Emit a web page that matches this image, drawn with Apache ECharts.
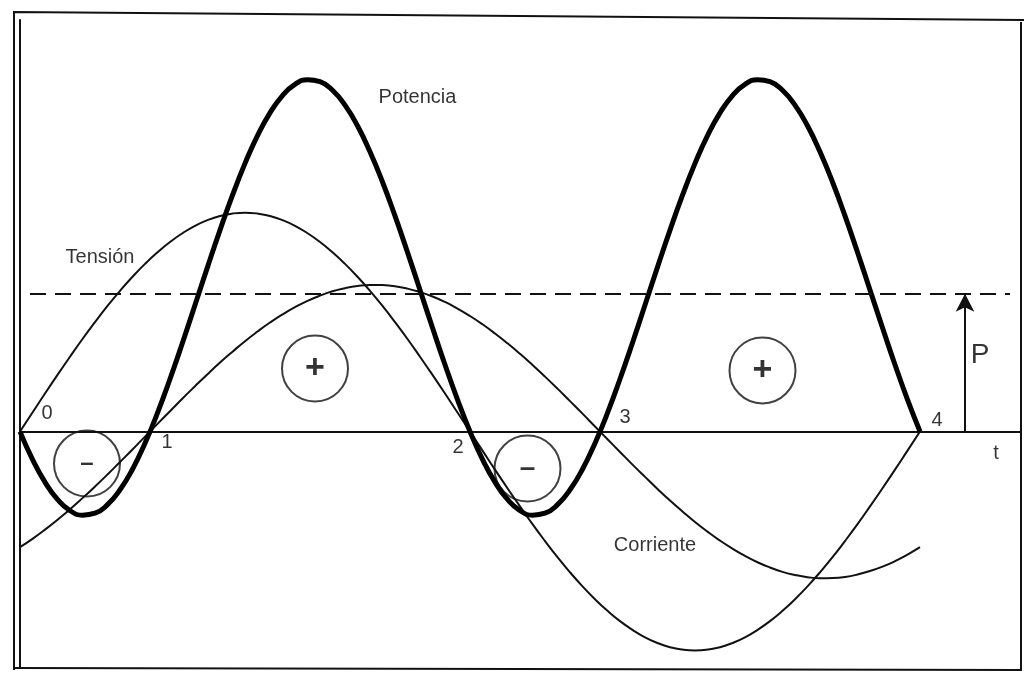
<!DOCTYPE html>
<html>
<head>
<meta charset="utf-8">
<title>Tensión, corriente y potencia</title>
<script src="https://cdn.jsdelivr.net/npm/echarts@6/dist/echarts.min.js"></script>
<style>
html,body{margin:0;padding:0;background:#fff;}
#chart{width:1025px;height:684px;}
</style>
</head>
<body>
<div id="chart"></div>
<script>
// muestras cada 5 grados (wt), de 0 a 360
var angulos = [];
for (var a = 0; a <= 360; a += 5) angulos.push(a);

var tension = [
  0,8.7,17.4,25.9,34.2,42.3,50,57.4,64.3,70.7,76.6,81.9,86.6,90.6,94.0,96.6,98.5,99.6,
  100,99.6,98.5,96.6,94.0,90.6,86.6,81.9,76.6,70.7,64.3,57.4,50,42.3,34.2,25.9,17.4,8.7,
  0,-8.7,-17.4,-25.9,-34.2,-42.3,-50,-57.4,-64.3,-70.7,-76.6,-81.9,-86.6,-90.6,-94.0,-96.6,-98.5,-99.6,
  -100,-99.6,-98.5,-96.6,-94.0,-90.6,-86.6,-81.9,-76.6,-70.7,-64.3,-57.4,-50,-42.3,-34.2,-25.9,-17.4,-8.7,0
];
var corriente = [
  -52.8,-49.0,-44.8,-40.3,-35.5,-30.4,-25.1,-19.6,-13.9,-8.2,-2.3,3.5,9.3,15.1,20.7,26.2,31.5,36.5,
  41.3,45.7,49.8,53.5,56.8,59.7,62.1,64.1,65.5,66.5,67.0,66.9,66.4,65.3,63.7,61.7,59.2,56.2,
  52.8,49.0,44.8,40.3,35.5,30.4,25.1,19.6,13.9,8.2,2.3,-3.5,-9.3,-15.1,-20.7,-26.2,-31.5,-36.5,
  -41.3,-45.7,-49.8,-53.5,-56.8,-59.7,-62.1,-64.1,-65.5,-66.5,-67.0,-66.9,-66.4,-65.3,-63.7,-61.7,-59.2,-56.2,-52.8
];
var potencia = [
  0,-12.7,-23.1,-31.0,-36.1,-38.2,-37.3,-33.4,-26.6,-17.2,-5.3,8.5,24.0,40.6,57.8,75.1,92.0,108.0,
  122.5,135.2,145.6,153.5,158.6,160.7,159.8,155.9,149.1,139.7,127.8,114.0,98.5,81.9,64.7,47.4,30.5,14.6,
  0,-12.7,-23.1,-31.0,-36.1,-38.2,-37.3,-33.4,-26.6,-17.2,-5.3,8.5,24.0,40.6,57.8,75.1,92.0,108.0,
  122.5,135.2,145.6,153.5,158.6,160.7,159.8,155.9,149.1,139.7,127.8,114.0,98.5,81.9,64.7,47.4,30.5,14.6,0
];
var potenciaMedia = 63;
var puntosCero = ['0','1','2','3','4'];
var signos = ['-','+','-','+'];

var fuente = '"Liberation Sans", Arial, sans-serif';

function pares(ys) {
  return angulos.map(function (a, i) { return [a, ys[i]]; });
}

function texto(x, y, t, size) {
  return {
    value: [x, y],
    label: { formatter: t, fontSize: size || 20 }
  };
}

var chart = echarts.init(document.getElementById('chart'));

var option = {
  animation: false,
  backgroundColor: '#fff',
  grid: { left: 20, right: 5, top: 20, height: 648 },
  xAxis: {
    type: 'value', min: 0, max: 400,
    axisLine: { onZero: true, lineStyle: { color: '#111', width: 2 } },
    axisTick: { show: false }, axisLabel: { show: false }, splitLine: { show: false }
  },
  yAxis: {
    type: 'value', min: -108, max: 188,
    axisLine: { show: true, lineStyle: { color: '#111', width: 2 } },
    axisTick: { show: false }, axisLabel: { show: false }, splitLine: { show: false }
  },
  graphic: [
    { type: 'polyline', silent: true,
      shape: { points: [[14, 670], [14, 12], [1024, 20]] },
      style: { stroke: '#111', lineWidth: 2, fill: null } },
    { type: 'polyline', silent: true,
      shape: { points: [[14, 668], [1021, 670], [1021, 22]] },
      style: { stroke: '#111', lineWidth: 2, fill: null } }
  ],
  series: [
    {
      name: 'Tensión', type: 'line', data: pares(tension), smooth: true,
      showSymbol: false, lineStyle: { color: '#111', width: 2 }
    },
    {
      name: 'Corriente', type: 'line', data: pares(corriente), smooth: true,
      showSymbol: false, lineStyle: { color: '#111', width: 2 }
    },
    {
      name: 'Potencia', type: 'line', data: pares(potencia), smooth: true,
      showSymbol: false, lineStyle: { color: '#000', width: 5 },
      markLine: {
        silent: true, animation: false,
        label: { show: false },
        data: [
          [
            { coord: [4, potenciaMedia], symbol: 'none', lineStyle: { type: [16, 9], width: 2, color: '#111' } },
            { coord: [396, potenciaMedia], symbol: 'none' }
          ],
          [
            { coord: [378, 0], symbol: 'none', lineStyle: { type: 'solid', width: 2, color: '#111' } },
            { coord: [378, potenciaMedia], symbol: 'arrow', symbolSize: [14, 18] }
          ]
        ]
      }
    },
    {
      name: 'signos', type: 'scatter', symbol: 'circle', symbolSize: 66,
      itemStyle: { color: 'rgba(0,0,0,0)', borderColor: '#111', borderWidth: 2 },
      label: { show: true, position: 'inside', color: '#000', fontFamily: fuente, fontWeight: 'bold', fontSize: 34,
        formatter: function (p) { return signos[p.dataIndex] === '+' ? '+' : '\u2013'; } },
      data: [
        { value: [26.8, -14.6], label: { fontSize: 24 } },
        [118, 28.8],
        { value: [203, -16.9], label: { fontSize: 28 } },
        [297, 27.9]
      ]
    },
    {
      name: 'textos', type: 'scatter', symbolSize: 0,
      label: { show: true, position: 'inside', color: '#000', fontFamily: fuente },
      data: [
        texto(159, 152.5, 'Potencia'),
        texto(32, 79.5, 'Tensión'),
        texto(254, -52, 'Corriente'),
        texto(10.8, 8.2, puntosCero[0]),
        texto(58.8, -5, puntosCero[1]),
        texto(175.2, -7.3, puntosCero[2]),
        texto(242, 6.4, puntosCero[3]),
        texto(366.8, 5, puntosCero[4]),
        texto(390.4, -10, 't'),
        texto(384, 34.7, 'P', 28)
      ]
    }
  ]
};

chart.setOption(option);
</script>
</body>
</html>
